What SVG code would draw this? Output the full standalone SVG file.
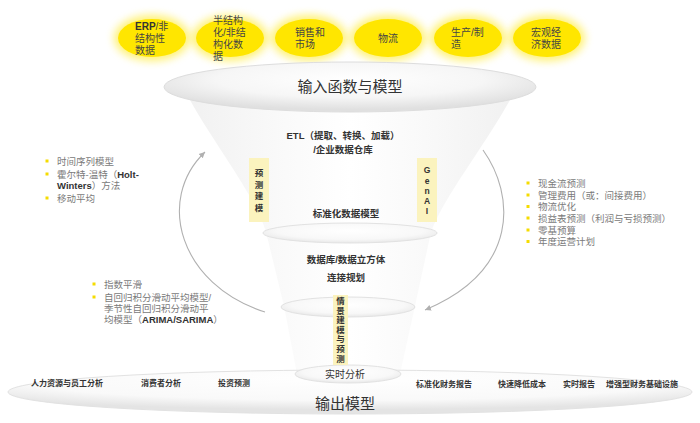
<svg xmlns="http://www.w3.org/2000/svg" width="700" height="423" viewBox="0 0 700 423">
<defs>
<style>
.cn{font-family:"Liberation Sans","Noto Sans CJK SC",sans-serif;}
.ct{font-family:"Liberation Sans","Noto Sans CJK SC",sans-serif;font-size:10px;fill:#444;}
.li{font-family:"Liberation Sans","Noto Sans CJK SC",sans-serif;font-size:9.5px;fill:#7a7a7a;}
.lb{font-family:"Liberation Sans","Noto Sans CJK SC",sans-serif;font-size:8px;font-weight:bold;fill:#333;}
.mid{font-family:"Liberation Sans","Noto Sans CJK SC",sans-serif;font-size:9.5px;font-weight:bold;fill:#333;}
.tag{font-family:"Liberation Sans","Noto Sans CJK SC",sans-serif;font-size:8.5px;font-weight:bold;fill:#333;}
.en{font-family:"Liberation Sans",Arial,sans-serif;font-weight:bold;fill:#333;}
.yc{fill:#ffe600;}
.yg{fill:#ffe600;opacity:0.55;filter:url(#glow);}
.bul{fill:#f5dc00;}
.tagbox{fill:#fbf3be;}
.arc{fill:none;stroke:#b0b0b0;stroke-width:1.1;marker-end:url(#ah);}
.disc{stroke:#e2e2e2;stroke-width:1;fill:url(#disc);}
</style>
<filter id="glow" x="-50%" y="-50%" width="200%" height="200%"><feGaussianBlur stdDeviation="4"/></filter>
<radialGradient id="topg" cx="50%" cy="35%" r="60%">
<stop offset="0" stop-color="#ffffff"/><stop offset="0.6" stop-color="#f6f6f6"/><stop offset="1" stop-color="#e0e0e0"/>
</radialGradient>
<radialGradient id="disc" cx="50%" cy="40%" r="60%">
<stop offset="0" stop-color="#ffffff"/><stop offset="0.7" stop-color="#f8f8f8"/><stop offset="1" stop-color="#e8e8e8"/>
</radialGradient>
<radialGradient id="botg" cx="50%" cy="20%" r="70%">
<stop offset="0" stop-color="#ffffff"/><stop offset="0.7" stop-color="#f9f9f9"/><stop offset="1" stop-color="#e4e4e4"/>
</radialGradient>
<linearGradient id="fun" x1="0" y1="0" x2="1" y2="0">
<stop offset="0" stop-color="#f1f1f1"/><stop offset="0.3" stop-color="#fafafa"/><stop offset="0.5" stop-color="#ffffff"/><stop offset="0.7" stop-color="#fafafa"/><stop offset="1" stop-color="#f1f1f1"/>
</linearGradient>
<marker id="ah" markerWidth="8" markerHeight="8" refX="6" refY="4" orient="auto" markerUnits="userSpaceOnUse">
<path d="M0,1 L6,4 L0,7 Z" fill="#b0b0b0"/>
</marker>
</defs>
<rect width="700" height="423" fill="#ffffff"/>

<g id="funnel">
<path d="M190,100 C218,150 255,195 266,232 L284,306 L297,374 L400,374 L415,306 L431,232 C445,195 482,150 510,100 Z" fill="url(#fun)"/>
</g>

<g id="inputs">
<g id="in-erp">
<ellipse class="yg" cx="152" cy="38" rx="38" ry="23"/>
<ellipse class="yc" cx="152" cy="38" rx="34" ry="19"/>
<text class="ct" x="135" y="26" dominant-baseline="central"><tspan class="en" font-size="10">ERP</tspan>/非</text>
<text class="ct" x="135" y="38" dominant-baseline="central">结构性</text>
<text class="ct" x="135" y="50" dominant-baseline="central">数据</text>
</g>
<g id="in-semi">
<ellipse class="yg" cx="230" cy="38" rx="38" ry="23"/>
<ellipse class="yc" cx="230" cy="38" rx="34" ry="19"/>
<text class="ct" x="213" y="20" dominant-baseline="central">半结构</text>
<text class="ct" x="213" y="32" dominant-baseline="central">化/非结</text>
<text class="ct" x="213" y="44" dominant-baseline="central">构化数</text>
<text class="ct" x="213" y="56" dominant-baseline="central">据</text>
</g>
<g id="in-sales">
<ellipse class="yg" cx="309" cy="38" rx="38" ry="23"/>
<ellipse class="yc" cx="309" cy="38" rx="34" ry="19"/>
<text class="ct" x="295" y="32" dominant-baseline="central">销售和</text>
<text class="ct" x="295" y="44" dominant-baseline="central">市场</text>
</g>
<g id="in-logistics">
<ellipse class="yg" cx="388" cy="38" rx="38" ry="23"/>
<ellipse class="yc" cx="388" cy="38" rx="34" ry="19"/>
<text class="ct" x="388" y="38" text-anchor="middle" dominant-baseline="central">物流</text>
</g>
<g id="in-mfg">
<ellipse class="yg" cx="468" cy="38" rx="38" ry="23"/>
<ellipse class="yc" cx="468" cy="38" rx="34" ry="19"/>
<text class="ct" x="451" y="32" dominant-baseline="central">生产/制</text>
<text class="ct" x="451" y="44" dominant-baseline="central">造</text>
</g>
<g id="in-macro">
<ellipse class="yg" cx="547" cy="38" rx="38" ry="23"/>
<ellipse class="yc" cx="547" cy="38" rx="34" ry="19"/>
<text class="ct" x="531" y="32" dominant-baseline="central">宏观经</text>
<text class="ct" x="531" y="44" dominant-baseline="central">济数据</text>
</g>
</g>

<g id="input-model">
<ellipse cx="350" cy="87" rx="186" ry="25" fill="url(#topg)" stroke="#dddddd" stroke-width="1"/>
<text class="cn" x="350" y="86" font-size="15" fill="#333" text-anchor="middle" dominant-baseline="central">输入函数与模型</text>
</g>

<g id="etl">
<text class="mid" x="343" y="135" text-anchor="middle" dominant-baseline="central" font-size="10"><tspan class="en">ETL</tspan>（提取、转换、加载）</text>
<text class="mid" x="343" y="149" text-anchor="middle" dominant-baseline="central" font-size="10">/企业数据仓库</text>
</g>

<g id="std-model">
<text class="mid" x="346" y="213" text-anchor="middle" dominant-baseline="central">标准化数据模型</text>
<ellipse class="disc" cx="350" cy="233" rx="87" ry="10"/>
</g>

<g id="database">
<text class="mid" x="346" y="259" text-anchor="middle" dominant-baseline="central">数据库/数据立方体</text>
<text class="mid" x="346" y="277" text-anchor="middle" dominant-baseline="central">连接规划</text>
<ellipse class="disc" cx="348" cy="307" rx="67" ry="10"/>
</g>

<g id="output-model">
<ellipse cx="350" cy="392" rx="342" ry="22" fill="url(#botg)" stroke="#e2e2e2" stroke-width="1"/>
<text class="cn" x="345" y="403" font-size="15" fill="#333" text-anchor="middle" dominant-baseline="central">输出模型</text>
<text class="lb" x="67" y="383" text-anchor="middle" dominant-baseline="central">人力资源与员工分析</text>
<text class="lb" x="161" y="383" text-anchor="middle" dominant-baseline="central">消费者分析</text>
<text class="lb" x="234" y="383" text-anchor="middle" dominant-baseline="central">投资预测</text>
<text class="lb" x="444" y="384" text-anchor="middle" dominant-baseline="central">标准化财务报告</text>
<text class="lb" x="522" y="384" text-anchor="middle" dominant-baseline="central">快速降低成本</text>
<text class="lb" x="579" y="384" text-anchor="middle" dominant-baseline="central">实时报告</text>
<text class="lb" x="642" y="384" text-anchor="middle" dominant-baseline="central">增强型财务基础设施</text>
</g>

<g id="realtime">
<ellipse class="disc" cx="348" cy="374" rx="53" ry="9"/>
<text class="cn" x="345" y="374" font-size="10" fill="#333" text-anchor="middle" dominant-baseline="central">实时分析</text>
</g>

<g id="tag-predict">
<rect class="tagbox" x="249" y="158" width="20" height="64"/>
<text class="tag" x="259" y="173" text-anchor="middle" dominant-baseline="central">预</text>
<text class="tag" x="259" y="184.5" text-anchor="middle" dominant-baseline="central">测</text>
<text class="tag" x="259" y="196" text-anchor="middle" dominant-baseline="central">建</text>
<text class="tag" x="259" y="207.5" text-anchor="middle" dominant-baseline="central">模</text>
</g>

<g id="tag-genai">
<rect class="tagbox" x="417" y="158" width="20" height="64"/>
<text class="en" x="427" y="170" font-size="8.5" text-anchor="middle" dominant-baseline="central">G</text>
<text class="en" x="427" y="181" font-size="8.5" text-anchor="middle" dominant-baseline="central">e</text>
<text class="en" x="427" y="191" font-size="8.5" text-anchor="middle" dominant-baseline="central">n</text>
<text class="en" x="427" y="201" font-size="8.5" text-anchor="middle" dominant-baseline="central">A</text>
<text class="en" x="427" y="211" font-size="8.5" text-anchor="middle" dominant-baseline="central">I</text>
</g>

<g id="tag-scenario">
<rect class="tagbox" x="333" y="295" width="15" height="70"/>
<text class="tag" x="340.5" y="301" text-anchor="middle" dominant-baseline="central">情</text>
<text class="tag" x="340.5" y="310.5" text-anchor="middle" dominant-baseline="central">景</text>
<text class="tag" x="340.5" y="320" text-anchor="middle" dominant-baseline="central">建</text>
<text class="tag" x="340.5" y="329.5" text-anchor="middle" dominant-baseline="central">模</text>
<text class="tag" x="340.5" y="339" text-anchor="middle" dominant-baseline="central">与</text>
<text class="tag" x="340.5" y="348.5" text-anchor="middle" dominant-baseline="central">预</text>
<text class="tag" x="340.5" y="359" text-anchor="middle" dominant-baseline="central">测</text>
</g>

<g id="connectors">
<path class="arc" d="M265,312 C180,285 155,200 205,152"/>
<path class="arc" d="M483,150 C515,195 520,270 425,310"/>
</g>

<g id="list-timeseries">
<rect class="bul" x="45.5" y="159.5" width="3" height="3"/>
<rect class="bul" x="45.5" y="172.5" width="3" height="3"/>
<rect class="bul" x="45.5" y="196.5" width="3" height="3"/>
<text class="li" x="57" y="161" dominant-baseline="central">时间序列模型</text>
<text class="li" x="57" y="174" dominant-baseline="central">霍尔特-温特（<tspan class="en" fill="#444">Holt-</tspan></text>
<text class="li" x="57" y="185" dominant-baseline="central"><tspan class="en" fill="#444">Winters</tspan>）方法</text>
<text class="li" x="57" y="198" dominant-baseline="central">移动平均</text>
</g>

<g id="list-arima">
<rect class="bul" x="92.5" y="282.5" width="3" height="3"/>
<rect class="bul" x="92.5" y="295.5" width="3" height="3"/>
<text class="li" x="104" y="284" dominant-baseline="central">指数平滑</text>
<text class="li" x="104" y="297" dominant-baseline="central">自回归积分滑动平均模型/</text>
<text class="li" x="104" y="308" dominant-baseline="central">季节性自回归积分滑动平</text>
<text class="li" x="104" y="319" dominant-baseline="central">均模型（<tspan class="en" fill="#444">ARIMA/SARIMA</tspan>）</text>
</g>

<g id="list-planning">
<rect class="bul" x="526.5" y="181.5" width="3" height="3"/>
<rect class="bul" x="526.5" y="193.5" width="3" height="3"/>
<rect class="bul" x="526.5" y="205" width="3" height="3"/>
<rect class="bul" x="526.5" y="216.5" width="3" height="3"/>
<rect class="bul" x="526.5" y="228.5" width="3" height="3"/>
<rect class="bul" x="526.5" y="240" width="3" height="3"/>
<text class="li" x="538" y="183" font-size="9.2" dominant-baseline="central">现金流预测</text>
<text class="li" x="538" y="195" font-size="9.2" dominant-baseline="central">管理费用（或：间接费用）</text>
<text class="li" x="538" y="206.5" font-size="9.2" dominant-baseline="central">物流优化</text>
<text class="li" x="538" y="218" font-size="9.2" dominant-baseline="central">损益表预测（利润与亏损预测）</text>
<text class="li" x="538" y="230" font-size="9.2" dominant-baseline="central">零基预算</text>
<text class="li" x="538" y="241.5" font-size="9.2" dominant-baseline="central">年度运营计划</text>
</g>
</svg>
